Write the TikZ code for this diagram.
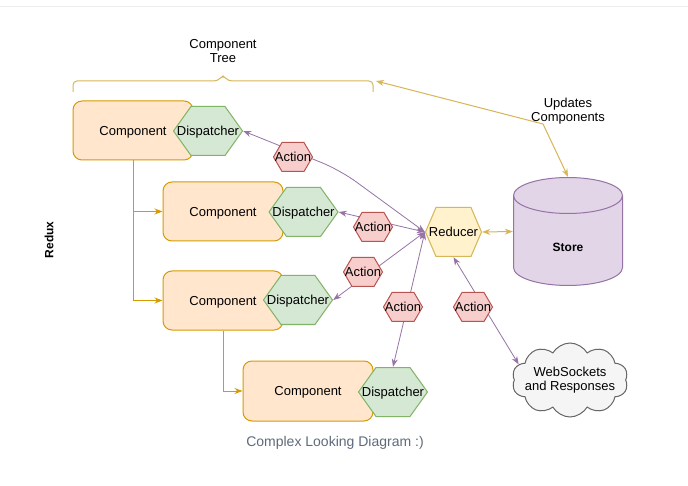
\documentclass[tikz,border=0pt]{standalone}
\usepackage{fontspec}
\setmainfont{Liberation Sans}
\usetikzlibrary{arrows.meta,backgrounds,shapes.symbols}

\definecolor{compfill}{HTML}{FFE6CC}
\definecolor{compline}{HTML}{D79B00}
\definecolor{dispfill}{HTML}{D5E8D4}
\definecolor{displine}{HTML}{82B366}
\definecolor{actfill}{HTML}{F8CECC}
\definecolor{actline}{HTML}{B85450}
\definecolor{redfill}{HTML}{FFF2CC}
\definecolor{redline}{HTML}{D6B656}
\definecolor{storefill}{HTML}{E1D5E7}
\definecolor{storeline}{HTML}{9673A6}
\definecolor{cloudfill}{HTML}{F5F5F5}
\definecolor{cloudline}{HTML}{666666}
\definecolor{captext}{HTML}{5F6B7B}

\tikzset{
	hex inset/.store in=\hexinset,
	hex fill/.store in=\hexfill,
	hex line/.store in=\hexline,
	hexbox/.style={inner sep=0pt, text depth=0pt, hex inset=#1,
		path picture={
			\path[fill=\hexfill, draw=\hexline, line width=1pt]
				([xshift=.5pt]path picture bounding box.west)
				-- ([xshift=\hexinset, yshift=-.5pt]path picture bounding box.north west)
				-- ([xshift=-\hexinset, yshift=-.5pt]path picture bounding box.north east)
				-- ([xshift=-.5pt]path picture bounding box.east)
				-- ([xshift=-\hexinset, yshift=.5pt]path picture bounding box.south east)
				-- ([xshift=\hexinset, yshift=.5pt]path picture bounding box.south west)
				-- cycle;
		}},
	storebox/.style={inner sep=0pt, minimum width=110pt, minimum height=109pt,
		path picture={
			\path[fill=storefill, draw=storeline, line width=1pt]
				([xshift=.5pt, yshift=-18.5pt]path picture bounding box.north west)
				-- ([xshift=.5pt, yshift=18.5pt]path picture bounding box.south west)
				arc[start angle=180, end angle=360, x radius=54.5pt, y radius=18pt]
				-- ([xshift=-.5pt, yshift=-18.5pt]path picture bounding box.north east)
				arc[start angle=0, end angle=180, x radius=54.5pt, y radius=18pt]
				-- cycle;
			\draw[storeline, line width=1pt]
				([xshift=.5pt, yshift=-18.5pt]path picture bounding box.north west)
				arc[start angle=180, end angle=360, x radius=54.5pt, y radius=18pt];
		}},
}

\begin{document}
\begin{tikzpicture}[x=1pt, y=-1pt, font=\fontsize{13}{14}\selectfont,
	component/.style={draw=compline, fill=compfill, line width=1pt, rounded corners=9pt,
		minimum width=120pt, minimum height=59pt, inner sep=0pt, text depth=0pt},
	dispatcher/.style={hexbox=18pt, minimum width=70pt, minimum height=50pt,
		hex fill=dispfill, hex line=displine},
	action/.style={hexbox=9pt, minimum width=40pt, minimum height=30pt,
		hex fill=actfill, hex line=actline},
	reducer/.style={hexbox=11pt, minimum width=57pt, minimum height=50pt,
		hex fill=redfill, hex line=redline},
	flow/.style={draw=storeline, line width=.8pt,
		arrows={Stealth[length=8pt,width=6pt]-Stealth[length=8pt,width=6pt]}},
	tree/.style={draw=compline, line width=1pt, -{Stealth[length=8pt,width=6pt]}},
	update/.style={draw=redline, line width=1pt,
		arrows={Stealth[length=8pt,width=6pt]-Stealth[length=8pt,width=6pt]}},
	]
	\useasboundingbox (0,0) rectangle (688,486);
	\draw[black!7, line width=1pt] (0,7) -- (688,7);

	\node[font=\bfseries\fontsize{12}{14}\selectfont, rotate=90] (redux) at (49,240) {Redux};
	\node[align=center] (treelabel) at (223,51) {Component\\Tree};
	\draw[redline, line width=1pt, rounded corners=4pt] (73,92) -- (73,81) -- (218,81)
		-- (223,75) -- (228,81) -- (373,81) -- (373,92);
	\coordinate (treeend) at (376,81);

	% components and their dispatchers
	\node[component] (c1) at (133,130.5) {Component};
	\node[dispatcher] (d1) at (208,131) {Dispatcher};
	\node[component] (c2) at (223,211.5) {Component};
	\node[dispatcher] (d2) at (303.5,212) {Dispatcher};
	\node[component] (c3) at (223,300.5) {Component};
	\node[dispatcher] (d3) at (298,300) {Dispatcher};
	\node[component, minimum width=130pt, minimum height=60pt] (c4) at (308,391) {Component};
	\node[dispatcher] (d4) at (393,392) {Dispatcher};

	\node[reducer] (r) at (453.5,232) {Reducer};
	\node[storebox, label={[yshift=-16pt, font=\bfseries\fontsize{12}{14}\selectfont]center:Store}] (store) at (568,231.5) {};
	\node[cloud, draw=cloudline, fill=cloudfill, line width=1pt, cloud puffs=10, cloud puff arc=120,
		cloud ignores aspect, minimum width=116pt, minimum height=74pt, inner sep=-16pt, align=center]
		(ws) at (570,380) {WebSockets\\and Responses};

	\node[action] (a1) at (293,157) {Action};
	\node[action] (a2) at (373,227) {Action};
	\node[action] (a3) at (363,272) {Action};
	\node[action] (a4) at (403,307) {Action};
	\node[action] (a5) at (473,307) {Action};

	\node[align=center] (updlabel) at (568,111) {Updates\\Components};
	\node[text=captext, font=\fontsize{14}{16}\selectfont] (caption) at (335,443) {Complex Looking Diagram :)};

	\coordinate (bend1) at (340,170);
	\coordinate (bend2) at (543,124);
	\begin{scope}[on background layer]
		\fill[white] (0,0) rectangle (688,486);
		\draw[tree] (c1.south) |- (c2.west);
		\draw[tree] (c1.south) |- (c3.west);
		\draw[tree] (c3.south) |- (c4.west);
		\draw[flow, rounded corners=20pt] (r.west) -- (bend1) -- (d1.east);
		\draw[flow] (r.west) -- (d2.east);
		\draw[flow] (r.west) -- (d3.east);
		\draw[flow] (r.west) -- (d4.north);
		\draw[flow] (r.south) -- (ws.163);
		\draw[update] (r.east) -- (store.west);
		\draw[update] (treeend) -- (bend2) -- (store.north);
	\end{scope}
\end{tikzpicture}
\end{document}
